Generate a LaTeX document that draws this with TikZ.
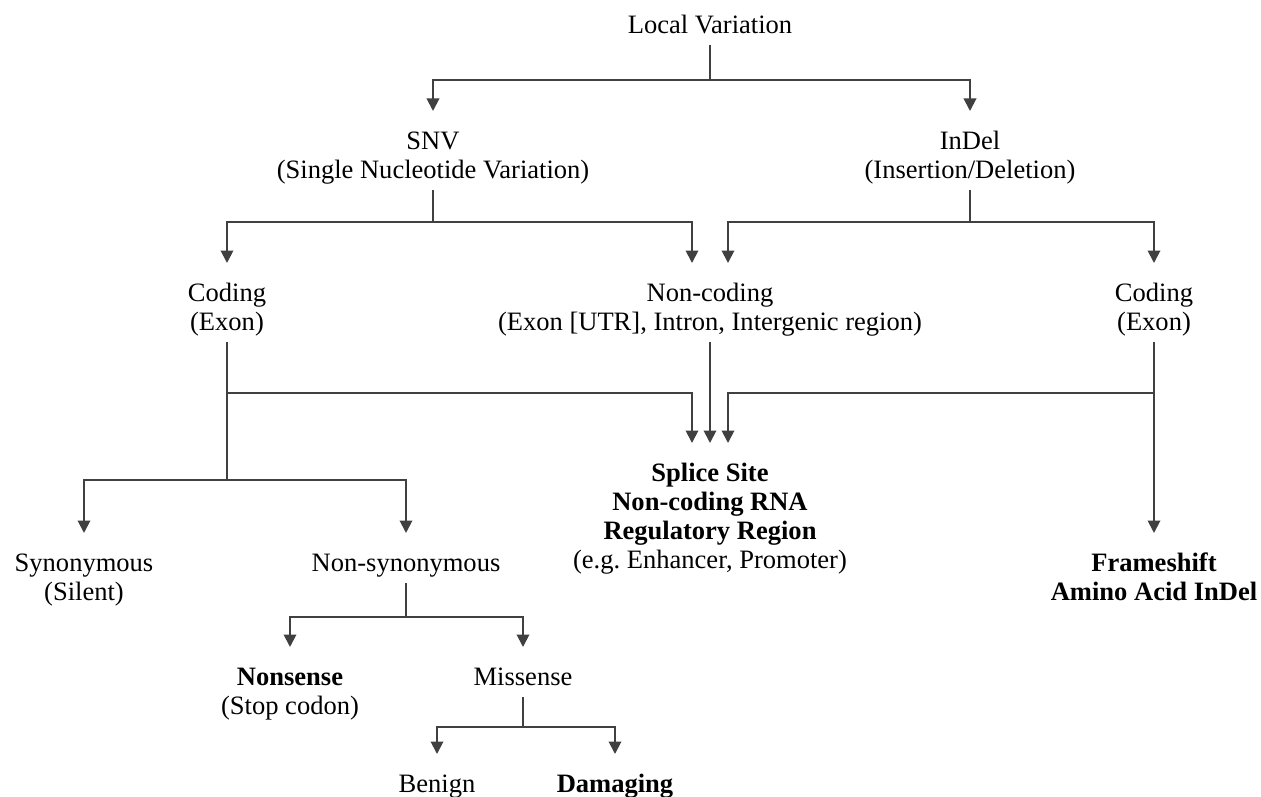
\documentclass[tikz,border=0pt]{standalone}
\usepackage{fontspec}
\setmainfont{Liberation Serif}
\usetikzlibrary{arrows.meta}

\begin{document}
\begin{tikzpicture}[>={Triangle[length=2.5mm,width=2.5mm]},
  font=\fontsize{15.1pt}{16.5pt}\selectfont,
  lbl/.style={anchor=north,align=center,inner sep=0pt,outer sep=0pt,
    execute at begin node={\rule[-0.224cm]{0pt}{\dimexpr 1cm+16.5pt*(#1-1)\relax}}},
  lbl/.default=1,
  conn/.style={black!75,line width=1.1pt}]
\useasboundingbox (0,0) rectangle (25.22,15.92);
% labels
\node[lbl] (lv) at (14.20,16.02) {Local Variation};
\node[lbl=2] (snv) at (8.66,13.70) {SNV\\(Single Nucleotide Variation)};
\node[lbl=2] (indel) at (19.40,13.70) {InDel\\(Insertion/Deletion)};
\node[lbl=2] (cod1) at (4.54,10.66) {Coding\\(Exon)};
\node[lbl=2] (ncod) at (14.20,10.66) {Non-coding\\(Exon [UTR], Intron, Intergenic region)};
\node[lbl=2] (cod2) at (23.08,10.66) {Coding\\(Exon)};
\node[lbl=4] (splice) at (14.20,7.06) {\textbf{Splice Site}\\\textbf{Non-coding RNA}\\\textbf{Regulatory Region}\\(e.g.\ Enhancer, Promoter)};
\node[lbl=2] (syn) at (1.68,5.26) {Synonymous\\(Silent)};
\node[lbl] (nsyn) at (8.12,5.26) {Non-synonymous};
\node[lbl=2] (frame) at (23.08,5.26) {\textbf{Frameshift}\\\textbf{Amino Acid InDel}};
\node[lbl=2] (nons) at (5.80,2.98) {\textbf{Nonsense}\\(Stop codon)};
\node[lbl] (miss) at (10.46,2.98) {Missense};
\node[lbl] (ben) at (8.74,0.84) {Benign};
\node[lbl] (dam) at (12.30,0.84) {\textbf{Damaging}};
% connectors
\draw[conn,->] (lv.south) -- ++(0,-0.70) coordinate (lvj) -| (snv.north);
\draw[conn,->] (lvj) -| (indel.north);
\draw[conn,->] (snv.south) -- ++(0,-0.64) coordinate (snvj) -| (cod1.north);
\draw[conn,->] (snvj) -| ([xshift=-0.36cm]ncod.north);
\draw[conn,->] (indel.south) -- ++(0,-0.64) coordinate (indelj) -| ([xshift=0.36cm]ncod.north);
\draw[conn,->] (indelj) -| (cod2.north);
\draw[conn] (cod1.south) -- ++(0,-2.76) coordinate (codj);
\draw[conn,->] (cod1.south) ++(0,-1.02) -| ([xshift=-0.36cm]splice.north);
\draw[conn,->] (ncod.south) -- (splice.north);
\draw[conn,->] (cod2.south) -- (frame.north);
\draw[conn,->] (cod2.south) ++(0,-1.02) -| ([xshift=0.36cm]splice.north);
\draw[conn,->] (codj) -| (syn.north);
\draw[conn,->] (codj) -| (nsyn.north);
\draw[conn,->] (nsyn.south) -- ++(0,-0.68) coordinate (nsynj) -| (nons.north);
\draw[conn,->] (nsynj) -| (miss.north);
\draw[conn,->] (miss.south) -- ++(0,-0.60) coordinate (missj) -| (ben.north);
\draw[conn,->] (missj) -| (dam.north);
\end{tikzpicture}
\end{document}
